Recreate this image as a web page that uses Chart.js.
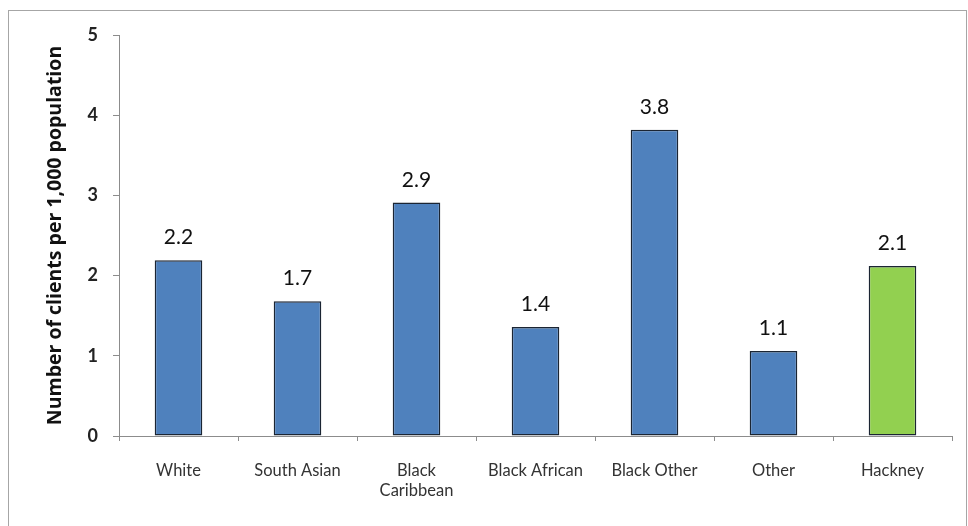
<!DOCTYPE html>
<html>
<head>
<meta charset="utf-8">
<script src="https://cdn.jsdelivr.net/npm/chart.js@4/dist/chart.umd.min.js"></script>
<style>
html,body{margin:0;padding:0;background:#fff;overflow:hidden}
#frame{position:absolute;left:8px;top:10px;width:957px;height:530px;border:1px solid #a6a6a6}
#wrap{position:absolute;left:0;top:0;width:968px;height:526px}
</style>
</head>
<body>
<div id="frame"></div>
<div id="wrap"><canvas id="clientChart"></canvas></div>
<script>
// values
const categories = ['White', 'South Asian', ['Black', 'Caribbean'], 'Black African', 'Black Other', 'Other', 'Hackney'];
const clientRates = [2.19, 1.68, 2.91, 1.36, 3.82, 1.06, 2.12];
const barColors = ['#4f81bd', '#4f81bd', '#4f81bd', '#4f81bd', '#4f81bd', '#4f81bd', '#92d050'];
const yMin = 0, yMax = 5, yStep = 1;
const yTitle = 'Number of clients per 1,000 population';

// writes the rounded value over each bar
const valueLabels = {
  id: 'valueLabels',
  afterDatasetsDraw(chart) {
    const ctx = chart.ctx;
    const meta = chart.getDatasetMeta(0);
    ctx.save();
    ctx.font = '21px Lato';
    ctx.fillStyle = '#111';
    ctx.textAlign = 'center';
    ctx.textBaseline = 'alphabetic';
    meta.data.forEach((bar, i) => {
      ctx.fillText(clientRates[i].toFixed(1), bar.x, bar.y - 16);
    });
    ctx.restore();
  }
};

new Chart('clientChart', {
  type: 'bar',
  data: {
    labels: categories,
    datasets: [{
      data: clientRates,
      backgroundColor: barColors,
      borderColor: '#1b2533',
      borderWidth: 1.5,
      borderSkipped: false,
      barPercentage: 0.4,
      categoryPercentage: 1
    }]
  },
  options: {
    responsive: true,
    maintainAspectRatio: false,
    animation: false,
    layout: {padding: {top: 35, right: 16, left: 0, bottom: 0}},
    plugins: {legend: {display: false}, tooltip: {enabled: false}},
    scales: {
      x: {
        afterFit: s => { s.height = 90; },
        border: {color: '#8c8c8c', width: 1},
        grid: {drawOnChartArea: false, drawTicks: true, tickLength: 5, color: '#8c8c8c', offset: true},
        ticks: {padding: 20, color: '#333', font: {family: 'Lato', size: 16.5, lineHeight: 1.2}, maxRotation: 0, autoSkip: false}
      },
      y: {
        min: yMin, max: yMax,
        afterFit: s => { s.width = 119; },
        border: {color: '#8c8c8c', width: 1},
        grid: {drawOnChartArea: false, drawTicks: true, tickLength: 6, color: '#8c8c8c'},
        ticks: {stepSize: yStep, padding: 15, color: '#222', font: {family: 'Lato', size: 18, weight: 'bold'}},
        title: {display: true, text: yTitle, color: '#111', padding: {top: 44, bottom: 0}, font: {family: 'Open Sans', size: 19.5, weight: 'bold', lineHeight: 1.2}}
      }
    }
  },
  plugins: [valueLabels]
});
</script>
</body>
</html>
